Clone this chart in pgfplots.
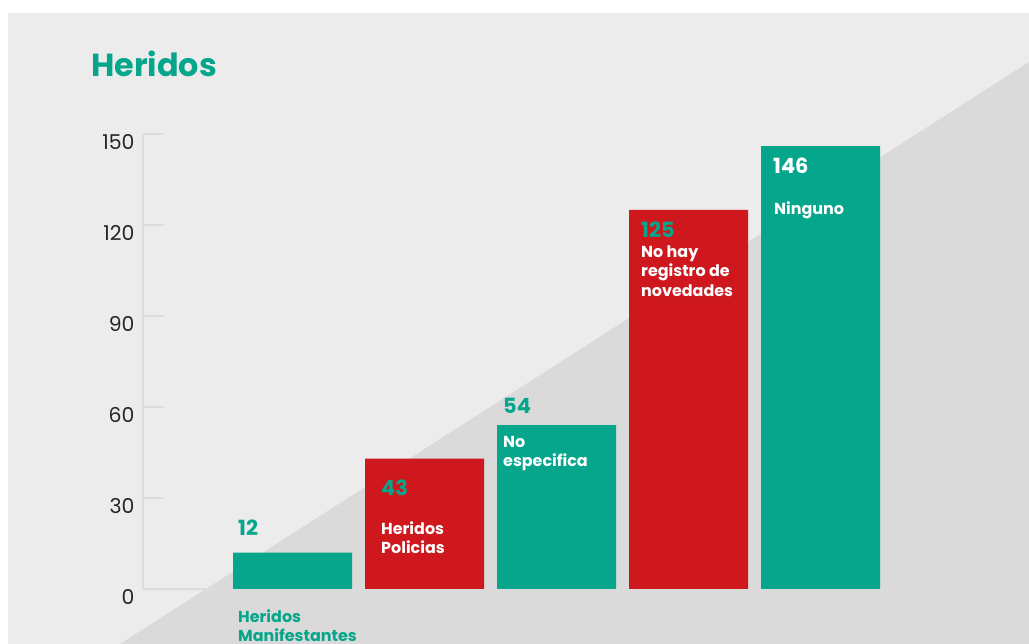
\documentclass[border=0pt]{standalone}
\usepackage{pgfplots}
\pgfplotsset{compat=1.18}
\usepackage{fontspec}
\setmainfont{Poppins}
\definecolor{teal2}{HTML}{05A68C}
\definecolor{red2}{HTML}{CE181E}
\definecolor{bgone}{HTML}{ECECEC}
\definecolor{bgtwo}{HTML}{DADADA}
\definecolor{axl}{HTML}{DCDCDC}
\newcommand{\vfont}{\bfseries\fontsize{21}{21}\selectfont}
\newcommand{\cfont}{\bfseries\fontsize{16}{16}\selectfont}
\begin{document}
\begin{tikzpicture}
\path[use as bounding box] (0,0) rectangle (1029bp,644bp);
\fill[white] (0,0) rectangle (1029bp,644bp);
\fill[bgone] (8bp,0) rectangle (1029bp,631bp);
\fill[bgtwo] (120bp,0) -- (1029bp,582bp) -- (1029bp,0) -- cycle;
\node[anchor=base west, text=teal2, font=\bfseries\fontsize{32}{32}\selectfont, inner sep=0] at (91bp,567bp) {Heridos};
\begin{axis}[
  at={(143bp,55bp)}, anchor=south west,
  scale only axis, width=757bp, height=455bp,
  xmin=-1.1326, xmax=4.602, ymin=0, ymax=150,
  axis x line=none, axis y line*=left,
  y axis line style={draw=axl, line width=2bp},
  ytick={0,30,60,90,120,150},
  major tick length=21bp, tick align=inside,
  ytick style={draw=axl, line width=2bp},
  yticklabel style={font=\fontsize{20.5}{20.5}\selectfont, text=black!85, anchor=east, xshift=-5bp, yshift=-8bp},
  /pgf/number format/assume math mode=true,
  clip=false,
]
\draw[axl, line width=2bp] (axis cs:-1.1326,0) -- (axis cs:4.602,0);
\addplot[ybar, bar width=0.9015, bar shift=0pt, fill=teal2, draw=none] coordinates {(0,12) (2,54) (4,146)};
\addplot[ybar, bar width=0.9015, bar shift=0pt, fill=red2, draw=none] coordinates {(1,43) (3,125)};
\end{axis}
% value labels
\node[anchor=base west, inner sep=0, text=teal2, font=\vfont] at (238bp,108bp) {12};
\node[anchor=base west, inner sep=0, text=teal2, font=\vfont] at (381bp,148bp) {43};
\node[anchor=base west, inner sep=0, text=teal2, font=\vfont] at (503bp,230bp) {54};
\node[anchor=base west, inner sep=0, text=teal2, font=\vfont] at (641bp,406bp) {125};
\node[anchor=base west, inner sep=0, text=white, font=\vfont] at (773bp,470bp) {146};
% category labels
\node[anchor=base west, inner sep=0, text=teal2, font=\cfont] at (238bp,22bp) {Heridos};
\node[anchor=base west, inner sep=0, text=teal2, font=\cfont] at (238bp,3bp) {Manifestantes};
\node[anchor=base west, inner sep=0, text=white, font=\cfont] at (381bp,109bp) {Heridos};
\node[anchor=base west, inner sep=0, text=white, font=\cfont] at (381bp,90bp) {Policias};
\node[anchor=base west, inner sep=0, text=white, font=\cfont] at (503bp,196bp) {No};
\node[anchor=base west, inner sep=0, text=white, font=\cfont] at (503bp,177bp) {especifica};
\node[anchor=base west, inner sep=0, text=white, font=\cfont] at (641bp,386bp) {No hay};
\node[anchor=base west, inner sep=0, text=white, font=\cfont] at (641bp,367bp) {registro de};
\node[anchor=base west, inner sep=0, text=white, font=\cfont] at (641bp,347bp) {novedades};
\node[anchor=base west, inner sep=0, text=white, font=\cfont] at (774bp,429bp) {Ninguno};
\end{tikzpicture}
\end{document}
